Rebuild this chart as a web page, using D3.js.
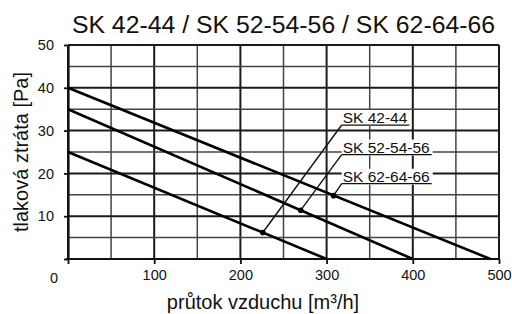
<!DOCTYPE html>
<html>
<head>
<meta charset="utf-8">
<script src="https://cdn.jsdelivr.net/npm/d3@7/dist/d3.min.js"></script>
<style>
  html, body { margin: 0; padding: 0; background: #fff; }
  svg { display: block; font-family: "Liberation Sans", Arial, Helvetica, sans-serif; }
</style>
</head>
<body>
<svg id="chart" width="512" height="314"></svg>
<script>
// ---- data ----
const title = "SK 42-44 / SK 52-54-56 / SK 62-64-66";
const xTitle = "průtok vzduchu [m³/h]";
const yTitle = "tlaková ztráta [Pa]";
const seriesNames = ["SK 42-44", "SK 52-54-56", "SK 62-64-66"];
// pressure loss at zero flow, and flow at zero pressure loss
const pressureAtZero = [25, 35, 40];
const flowAtZeroPressure = [300, 400, 490];
// marked operating points
const markerFlow = [226, 270, 308];
const markerPressure = [6.2, 11.4, 14.8];
const xTickValues = [100, 200, 300, 400, 500];
const yTickValues = [10, 20, 30, 40, 50];
const xGridValues = [0, 50, 100, 150, 200, 250, 300, 350, 400, 450, 500];
const yGridValues = [0, 5, 10, 15, 20, 25, 30, 35, 40, 45, 50];

// ---- layout ----
const svg = d3.select("#chart");
const x = d3.scaleLinear().domain([0, 500]).range([68, 499]);
const y = d3.scaleLinear().domain([0, 50]).range([259, 45]);
const labelAnchorX = 317.5;               // data units
const labelAnchorY = [31.3, 24.4, 17.6];  // data units (underline level)

// grid
const grid = svg.append("g");
grid.selectAll("line.v").data(xGridValues).join("line")
  .attr("x1", d => x(d)).attr("x2", d => x(d))
  .attr("y1", y(0)).attr("y2", y(50))
  .attr("stroke", d => d % 100 === 0 ? "#1a1a1a" : "#444")
  .attr("stroke-width", d => d % 100 === 0 ? 2 : 1.5);
grid.selectAll("line.h").data(yGridValues).join("line")
  .attr("x1", x(0)).attr("x2", x(500))
  .attr("y1", d => y(d)).attr("y2", d => y(d))
  .attr("stroke", d => d % 10 === 0 ? "#1a1a1a" : "#444")
  .attr("stroke-width", d => d % 10 === 0 ? 2 : 1.5);

// axes
const fontTick = "14.5px";
const xAxis = svg.append("g").attr("transform", `translate(0,${y(0)})`)
  .call(d3.axisBottom(x).tickValues([0].concat(xTickValues)).tickSize(5).tickSizeOuter(0).tickPadding(8).tickFormat(d => d === 0 ? "" : d));
const yAxis = svg.append("g").attr("transform", `translate(${x(0)},0)`)
  .call(d3.axisLeft(y).tickValues([0].concat(yTickValues)).tickSize(4).tickSizeOuter(0).tickPadding(10).tickFormat(d => d === 0 ? "" : d));
[xAxis, yAxis].forEach(a => {
  a.select(".domain").attr("stroke", "#111").attr("stroke-width", 2.2);
  a.selectAll(".tick line").attr("stroke", "#111").attr("stroke-width", 1.8);
  a.selectAll("text").attr("fill", "#111").style("font-size", fontTick).style("font-family", "Liberation Sans, Arial, sans-serif");
});
xAxis.select(".domain").attr("d", `M${-2 + x(0)},0H${x(500)}`);
xAxis.selectAll(".tick text").attr("dy", "0.55em");
// origin label
svg.append("text").attr("x", x(0) - 14).attr("y", 283).attr("text-anchor", "middle")
  .attr("fill", "#111").style("font-size", fontTick).text("0");

// series lines
const line = d3.line().x(d => x(d[0])).y(d => y(d[1]));
seriesNames.forEach((name, i) => {
  svg.append("path")
    .attr("d", line([[0, pressureAtZero[i]], [flowAtZeroPressure[i], 0]]))
    .attr("fill", "none").attr("stroke", "#000").attr("stroke-width", 2.6);
});

// labels with leaders
seriesNames.forEach((name, i) => {
  const lx = x(labelAnchorX), ly = y(labelAnchorY[i]);
  const g = svg.append("g");
  const bg = g.append("rect").attr("fill", "#fff");
  const t = g.append("text").attr("x", lx + 1).attr("y", ly - 2)
    .attr("fill", "#111").style("font-size", "15.5px").text(name);
  const w = t.node().getComputedTextLength();
  bg.attr("x", lx).attr("y", ly - 15).attr("width", w + 4).attr("height", 16);
  g.append("line").attr("x1", lx).attr("x2", lx + w + 3).attr("y1", ly).attr("y2", ly)
    .attr("stroke", "#111").attr("stroke-width", 1.3);
  svg.append("line")
    .attr("x1", x(markerFlow[i])).attr("y1", y(markerPressure[i]))
    .attr("x2", lx).attr("y2", ly)
    .attr("stroke", "#111").attr("stroke-width", 1.4);
  svg.append("circle").attr("cx", x(markerFlow[i])).attr("cy", y(markerPressure[i]))
    .attr("r", 2.8).attr("fill", "#000");
});

// titles
svg.append("text").attr("x", (x(0) + x(500)) / 2).attr("y", 33).attr("text-anchor", "middle")
  .attr("fill", "#111").style("font-size", "24.8px").text(title);
svg.append("text").attr("x", 263).attr("y", 309).attr("text-anchor", "middle")
  .attr("fill", "#111").style("font-size", "20px").text(xTitle);
svg.append("text").attr("transform", `translate(28,${(y(0) + y(50)) / 2}) rotate(-90)`)
  .attr("text-anchor", "middle").attr("fill", "#111").style("font-size", "20px").text(yTitle);
</script>
</body>
</html>
